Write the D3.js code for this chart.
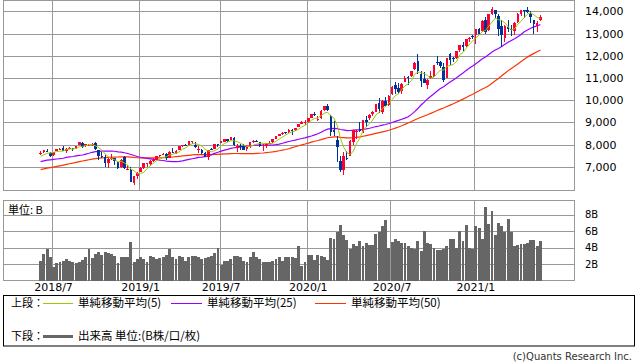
<!DOCTYPE html>
<meta charset="utf-8">
<style>
  body { margin: 0; background: #fff; }
  text { font-family: "DejaVu Sans", sans-serif; }
  .jp { font-family: "Noto Sans CJK JP", sans-serif; }
</style>
<svg width="638" height="362"></svg>
<script src="https://d3js.org/d3.v7.min.js"></script>
<script>

// weekly candles, Monday of each week, 2018/6/4 .. 2021/5/24
var firstWeek = new Date(2018, 5, 4),
    lastWeek = new Date(2021, 4, 24);

var opens = [
  7570,7660,7700,7640,7520,7720,7800,7840,7700,7830,
  7830,7830,7990,8090,7920,7980,8000,8080,7750,7480,
  7460,7180,7340,7400,7200,6990,7440,6900,6880,6280,
  6580,6770,6930,7110,7140,7270,7300,7480,7530,7600,
  7420,7690,7620,7780,7950,8000,8000,8160,8000,7760,
  7760,7630,7440,7800,7810,8020,8090,8140,8250,8200,
  8300,7830,7920,7960,7800,7930,8120,8150,8120,7970,
  7960,8040,8110,8270,8400,8460,8550,8550,8680,8650,
  8790,8930,9000,9000,9200,9380,9100,9190,9550,9740,
  9300,8670,8230,7250,6860,7400,7500,8100,8560,8700,
  8550,9100,9180,9400,9470,9870,9450,9980,9800,10300,
  10700,10530,10400,10800,11050,11080,11390,11760,11200,10950,
  10700,11000,11100,11700,11700,11500,11000,12100,11900,11900,
  12250,12470,12420,12740,12900,12950,13200,13100,13590,13150,
  13880,14080,13800,13320,12800,13300,13200,13100,13500,13900,
  14060,14050,13900,13600,13350,13600
];
var highs = [
  7697,7783,7806,7680,7690,7828,7866,7933,7830,7900,
  7840,7950,8133,8100,8020,8040,8070,8110,7780,7660,
  7550,7450,7580,7410,7210,7350,7490,7100,6990,6600,
  6760,7000,7180,7190,7310,7410,7480,7540,7640,7610,
  7700,7850,7740,7950,8000,8020,8160,8176,8100,7950,
  7800,7670,7750,7860,8050,8030,8170,8250,8270,8340,
  8340,8040,8040,8030,7980,8120,8200,8200,8130,8040,
  8080,8160,8250,8390,8480,8550,8570,8705,8690,8750,
  8930,9050,9110,9210,9390,9450,9290,9580,9740,9838,
  9330,9070,8400,7500,7650,7730,8200,8660,8640,9000,
  9130,9270,9400,9520,9850,10086,10000,10130,10230,10620,
  10830,10760,10760,11110,11100,11320,11700,12074,11320,11250,
  10950,11300,11600,12000,11760,11670,11920,12110,11950,12210,
  12470,12600,12760,12850,12950,13210,13240,13600,13730,13880,
  14175,14080,13900,13600,13400,13620,13370,13520,13920,14070,
  14070,14210,14000,13620,13580,13820
];
var lows = [
  7545,7620,7660,7424,7480,7700,7780,7710,7640,7790,
  7700,7820,7980,7860,7880,7930,7960,7750,7303,7400,
  6990,6960,7300,7100,6900,6960,6900,6880,6320,6190,
  6460,6760,6890,7000,7030,7200,7290,7450,7520,7330,
  7410,7620,7580,7770,7910,7950,7990,8030,7850,7630,
  7580,7450,7292,7740,7800,7900,8070,8110,8140,8190,
  7960,7660,7770,7750,7720,7870,8080,8100,7900,7700,
  7830,8030,8080,8270,8400,8440,8470,8540,8440,8620,
  8780,8920,8880,8990,9180,9300,9080,9150,9520,9530,
  8400,8400,7200,6780,6631,7290,7480,8000,8270,8580,
  8540,8800,9130,9270,9460,9440,9400,9740,9760,10250,
  10300,10300,10300,10800,10700,11060,11380,11200,10600,10770,
  10520,10950,11050,11600,11450,10820,10980,11600,11700,11850,
  12170,12220,12400,12620,12770,12550,12930,13080,12980,13100,
  13850,13710,12900,12400,12610,13060,12880,12950,13480,13800,
  13720,13930,13480,12980,13090,13560
];
var closes = [
  7645,7746,7692,7510,7688,7826,7820,7737,7812,7839,
  7816,7945,8109,7902,8010,7987,8046,7788,7497,7449,
  7167,7357,7406,7247,6939,7330,6969,6910,6333,6584,
  6739,6971,7157,7165,7264,7298,7472,7527,7595,7408,
  7688,7643,7729,7939,7984,7998,8146,8164,7917,7816,
  7637,7453,7742,7797,8032,8006,8162,8244,8146,8330,
  8004,7959,7896,7751,7963,8103,8177,8118,7940,7982,
  8057,8090,8243,8386,8475,8541,8520,8665,8657,8735,
  8925,9007,9020,9179,9389,9315,9151,9520,9731,9577,
  8567,8576,7875,6880,7502,7373,8154,8650,8634,8605,
  9121,9015,9325,9490,9814,9589,9946,9757,10208,10617,
  10503,10363,10745,11011,11019,11312,11696,11313,10854,10793,
  10914,11075,11580,11672,11548,10912,11895,11829,11855,12206,
  12464,12378,12756,12805,12888,13202,12998,13543,13071,13856,
  14095,13874,13192,12920,13320,13215,13138,13480,13900,14052,
  14016,13962,13752,13430,13471,13749
];

// moving averages (weeks)
var ma5 = [
  7478,7547,7614,7629,7656,7692,7707,7716,7777,7807,
  7805,7830,7904,7922,7956,7991,8011,7947,7866,7753,
  7589,7452,7375,7325,7223,7256,7178,7079,6896,6825,
  6707,6707,6757,6923,7059,7171,7271,7345,7431,7460,
  7538,7572,7613,7681,7797,7859,7959,8046,8042,8008,
  7936,7797,7713,7689,7732,7806,7948,8048,8118,8178,
  8177,8137,8067,7988,7915,7934,7978,8022,8060,8064,
  8055,8037,8062,8152,8250,8347,8433,8517,8572,8624,
  8700,8798,8869,8973,9104,9182,9211,9311,9421,9459,
  9309,9194,8865,8295,7880,7641,7557,7712,8063,8283,
  8633,8805,8940,9111,9353,9447,9633,9719,9863,10023,
  10206,10290,10487,10648,10728,10890,11157,11270,11239,11194,
  11114,10990,11043,11207,11358,11357,11521,11571,11608,11739,
  12050,12146,12332,12522,12658,12806,12930,13087,13140,13334,
  13513,13688,13618,13587,13480,13304,13157,13215,13411,13557,
  13717,13882,13936,13842,13726,13673
];
var ma25 = [
  7241,7273,7304,7319,7336,7356,7369,7389,7426,7450,
  7469,7497,7519,7535,7576,7613,7658,7686,7700,7713,
  7711,7709,7711,7704,7679,7667,7636,7604,7557,7513,
  7470,7436,7412,7386,7363,7343,7324,7301,7288,7264,
  7252,7236,7234,7251,7273,7306,7338,7368,7395,7430,
  7442,7461,7495,7553,7611,7662,7710,7753,7792,7835,
  7863,7883,7897,7904,7926,7942,7964,7979,7979,7979,
  7982,7979,7983,8001,8028,8064,8107,8143,8178,8206,
  8243,8277,8308,8349,8391,8444,8491,8556,8636,8700,
  8719,8735,8725,8683,8663,8636,8639,8655,8665,8670,
  8693,8713,8739,8773,8816,8842,8880,8909,8951,9000,
  9047,9096,9145,9196,9254,9363,9488,9626,9785,9916,
  10058,10175,10292,10413,10531,10603,10718,10818,10913,11008,
  11123,11221,11341,11445,11535,11643,11749,11861,11943,12057,
  12168,12255,12330,12413,12514,12606,12688,12764,12854,12954,
  13078,13161,13238,13301,13351,13403
];
var ma50 = [
  6880,6912,6943,6967,6993,7022,7051,7081,7113,7144,
  7172,7204,7237,7266,7297,7324,7353,7376,7392,7406,
  7414,7426,7436,7444,7446,7454,7454,7454,7438,7425,
  7413,7402,7400,7406,7407,7406,7410,7410,7412,7420,
  7433,7447,7460,7476,7493,7509,7523,7540,7549,7555,
  7554,7549,7550,7555,7562,7566,7573,7583,7589,7599,
  7603,7603,7599,7596,7595,7597,7600,7607,7615,7626,
  7644,7659,7675,7698,7729,7753,7784,7819,7866,7909,
  7952,7993,8030,8071,8113,8153,8187,8227,8270,8313,
  8331,8349,8352,8331,8321,8309,8309,8319,8333,8349,
  8379,8410,8441,8475,8511,8543,8578,8609,8650,8695,
  8745,8794,8851,8916,8977,9041,9111,9175,9234,9290,
  9347,9407,9473,9539,9601,9648,9715,9779,9843,9912,
  9983,10050,10125,10198,10268,10345,10422,10503,10570,10655,
  10766,10872,10978,11099,11215,11332,11432,11528,11634,11742,
  11840,11939,12028,12107,12180,12263
];

// volume, B
var volumes = [
  2.4,3.2,3.8,2.8,1.6,2.1,2.2,2.4,2.6,2.4,
  2.2,2.1,2.3,2.5,2.9,3.8,2.7,3.2,3.4,3.1,
  3.5,3.3,3.2,3.0,2.1,2.9,2.9,2.8,4.7,2.2,
  2.6,2.8,2.6,2.3,3.0,2.9,2.6,2.7,2.9,3.1,
  3.8,2.9,2.6,3.0,2.8,2.4,2.8,3.0,3.0,2.8,
  2.6,2.7,2.9,3.0,3.3,3.9,1.9,2.4,2.4,2.6,
  3.0,3.0,2.8,2.4,2.3,2.8,3.5,2.8,2.6,2.3,
  2.3,2.3,2.4,2.6,2.8,2.4,2.8,2.8,2.8,2.7,
  4.2,1.7,2.3,3.1,3.1,2.5,3.1,3.0,2.8,2.5,
  5.1,5.0,5.9,6.7,5.5,4.9,3.8,4.4,4.2,4.8,
  4.2,4.6,4.3,4.3,5.6,5.9,6.6,7.3,4.0,4.7,
  5.0,4.8,4.6,4.6,4.2,3.9,3.8,4.8,3.6,6.0,
  4.6,4.4,4.0,3.7,3.7,3.8,4.2,5.0,5.0,4.0,
  6.0,4.8,6.7,4.0,3.8,6.6,6.4,5.0,8.9,6.8,
  8.4,5.5,7.0,6.6,5.9,7.5,5.9,4.2,4.3,4.4,
  4.4,4.6,4.9,4.9,4.2,4.8
];

var priceTicks = [7000, 8000, 9000, 10000, 11000, 12000, 13000, 14000];
var volumeTicks = [2, 4, 6, 8];
var monthTicks = [[2018, 7], [2019, 1], [2019, 7], [2020, 1], [2020, 7], [2021, 1]];

var svg = d3.select("svg");
var gridColor = "#999",
    upColor = "#ff0033",
    downColor = "#003399";

var weeks = d3.timeMonday.range(firstWeek, d3.timeDay.offset(lastWeek, 1));

var x = d3.scaleBand()
    .domain(weeks)
    .range([39, 542])
    .paddingInner(0.1)
    .paddingOuter(0.05);

var y = d3.scaleLinear().domain([5962, 14508]).range([190, 0]);
var vy = d3.scaleLinear().domain([0, 9.7]).range([280.5, 200.5]);

var monthDates = monthTicks.map(function (m) {
    return d3.timeMonday.ceil(new Date(m[0], m[1] - 1, 1));
});
function gridX(d) {
    return Math.round(x(d) - x.step() * x.paddingInner() / 2) + 0.5;
}

// ---- grid
var grid = svg.append("g").attr("stroke", gridColor).attr("shape-rendering", "crispEdges");

priceTicks.forEach(function (v) {
    var yy = Math.round(y(v)) + 0.5;
    grid.append("line").attr("x1", 3.5).attr("x2", 574.5).attr("y1", yy).attr("y2", yy);
});
volumeTicks.forEach(function (v) {
    var yy = Math.round(vy(v)) + 0.5;
    grid.append("line").attr("x1", 3.5).attr("x2", 574.5).attr("y1", yy).attr("y2", yy);
});
monthDates.forEach(function (d) {
    var gx = gridX(d);
    grid.append("line").attr("x1", gx).attr("x2", gx).attr("y1", 0.5).attr("y2", 190.5);
    grid.append("line").attr("x1", gx).attr("x2", gx).attr("y1", 200.5).attr("y2", 280.5);
});
grid.append("rect").attr("x", 3.5).attr("y", 0.5).attr("width", 571).attr("height", 190).attr("fill", "none");
grid.append("rect").attr("x", 3.5).attr("y", 200.5).attr("width", 571).attr("height", 80).attr("fill", "none");

// ---- moving averages
function maLine(values, color, width) {
    var line = d3.line()
        .x(function (d, i) { return x(weeks[i]) + x.bandwidth() / 2; })
        .y(function (d) { return y(d); });
    svg.append("path")
        .datum(values)
        .attr("d", line)
        .attr("fill", "none")
        .attr("stroke", color)
        .attr("stroke-width", width);
}
maLine(ma50, "#ff3300", 1.2);
maLine(ma25, "#9900ff", 1.2);

// ---- candles
var candles = svg.append("g").attr("shape-rendering", "crispEdges");
weeks.forEach(function (d, i) {
    var cx = x(d) + x.bandwidth() / 2,
        up = closes[i] >= opens[i],
        color = up ? upColor : downColor,
        top = y(Math.max(opens[i], closes[i])),
        bot = y(Math.min(opens[i], closes[i]));
    candles.append("line")
        .attr("x1", Math.floor(cx) + 0.5).attr("x2", Math.floor(cx) + 0.5)
        .attr("y1", y(highs[i])).attr("y2", y(lows[i]))
        .attr("stroke", color);
    candles.append("rect")
        .attr("x", cx - 1.3)
        .attr("width", 2.6)
        .attr("y", top)
        .attr("height", Math.max(1, bot - top))
        .attr("fill", color);
});

maLine(ma5, "#99cc00", 1);

// ---- volume
svg.append("g").attr("shape-rendering", "crispEdges")
  .selectAll("rect")
  .data(volumes)
  .join("rect")
    .attr("x", function (d, i) { return x(weeks[i]); })
    .attr("width", x.bandwidth())
    .attr("y", function (d) { return vy(d); })
    .attr("height", function (d) { return vy(0) - vy(d); })
    .attr("fill", "#666");

svg.append("text")
    .attr("class", "jp")
    .attr("x", 8).attr("y", 210)
    .attr("dy", "0.35em")
    .attr("font-size", 11)
    .text("単位: B");

// ---- axes
var yAxis = svg.append("g")
    .attr("transform", "translate(585,0)")
    .call(d3.axisRight(y).tickValues(priceTicks).tickSize(0).tickPadding(0).tickFormat(d3.format(",")));
var vAxis = svg.append("g")
    .attr("transform", "translate(585,0)")
    .call(d3.axisRight(vy).tickValues(volumeTicks).tickSize(0).tickPadding(0)
        .tickFormat(function (d) { return d + "B"; }));
var xAxis = svg.append("g")
    .attr("transform", "translate(0,281)")
    .call(d3.axisBottom(x).tickValues(monthDates).tickSize(0).tickPadding(2)
        .tickFormat(d3.timeFormat("%Y/%-m")));

[yAxis, xAxis].forEach(function (g) {
    g.select(".domain").remove();
    g.selectAll("text").attr("font-family", "DejaVu Sans").attr("font-size", 11).attr("fill", "#000");
});
vAxis.select(".domain").remove();
vAxis.selectAll("text").attr("font-family", "DejaVu Sans").attr("font-size", 10).attr("fill", "#000");

// ---- legend
var legend = svg.append("g");
legend.append("rect")
    .attr("x", 3.5).attr("y", 295.5).attr("width", 631).attr("height", 50.5)
    .attr("fill", "none").attr("stroke", "#000");

var row1 = 303, row2 = 336;
var items = [
    { x1: 43, x2: 73, tx: 78, color: "#99cc00", label: "単純移動平均(5)" },
    { x1: 171, x2: 202, tx: 207, color: "#9900ff", label: "単純移動平均(25)" },
    { x1: 315, x2: 346, tx: 351, color: "#ff3300", label: "単純移動平均(50)" }
];
legend.append("text").attr("class", "jp").attr("x", 11).attr("y", row1)
    .attr("dy", "0.35em").attr("font-size", 11).text("上段：");
items.forEach(function (it) {
    legend.append("line").attr("x1", it.x1).attr("x2", it.x2).attr("y1", row1 + 0.5).attr("y2", row1 + 0.5)
        .attr("stroke", it.color);
    legend.append("text").attr("class", "jp").attr("x", it.tx).attr("y", row1)
        .attr("dy", "0.35em").attr("font-size", 11.5).text(it.label);
});
legend.append("text").attr("class", "jp").attr("x", 11).attr("y", row2)
    .attr("dy", "0.35em").attr("font-size", 11).text("下段：");
legend.append("line").attr("x1", 43).attr("x2", 73).attr("y1", row2 + 0.5).attr("y2", row2 + 0.5)
    .attr("stroke", "#666").attr("stroke-width", 3);
legend.append("text").attr("class", "jp").attr("x", 78).attr("y", row2)
    .attr("dy", "0.35em").attr("font-size", 11.5).text("出来高 単位:(B株/口/枚)");

svg.append("text")
    .attr("x", 632).attr("y", 356)
    .attr("dy", "0.35em")
    .attr("text-anchor", "end")
    .attr("font-size", 10)
    .attr("fill", "#333")
    .text("(c)Quants Research Inc.");

</script>
